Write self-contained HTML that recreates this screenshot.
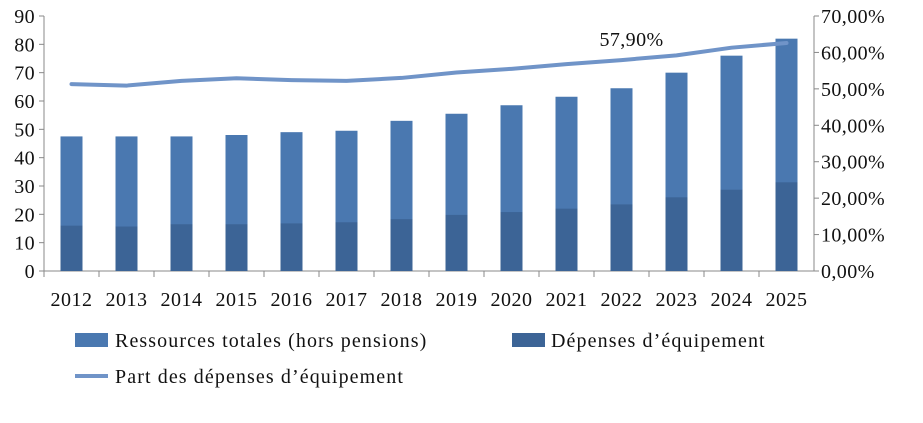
<!DOCTYPE html>
<html><head><meta charset="utf-8"><style>
body{margin:0;background:#fff;}
svg{display:block;font-family:"Liberation Serif",serif;}
</style></head><body>
<svg id="chart" width="923" height="423">
<g id="axes"></g><g id="bars"></g><g id="line"></g>
<g font-size="20" letter-spacing="1.1">
<rect x="75" y="333" width="33" height="14" fill="#4a78b0"/>
<text x="115" y="347" fill="#111">Ressources totales (hors pensions)</text>
<rect x="512" y="333" width="33" height="14" fill="#3c6496"/>
<text x="551" y="347" fill="#111">Dépenses d’équipement</text>
<line x1="75" y1="376" x2="108" y2="376" stroke="#7094c8" stroke-width="4"/>
<text x="115" y="383" fill="#111">Part des dépenses d’équipement</text>
</g>
</svg>
<script>
const categories=["2012","2013","2014","2015","2016","2017","2018","2019","2020","2021","2022","2023","2024","2025"];
const ressources=[47.5,47.5,47.5,48,49,49.5,53,55.5,58.5,61.5,64.5,70,76,82];
const depenses=[16,15.7,16.5,16.5,16.8,17.2,18.3,19.8,20.8,22,23.5,26,28.7,31.3];
const part=[51.3,50.9,52.2,52.9,52.4,52.2,53.0,54.5,55.5,56.8,57.9,59.2,61.3,62.6];
const leftTicks=[0,10,20,30,40,50,60,70,80,90];
const rightTicks=["0,00%","10,00%","20,00%","30,00%","40,00%","50,00%","60,00%","70,00%"];
const NS="http://www.w3.org/2000/svg";
const x0=44,step=55,yb=271,yt=16;
const yL=v=>yb-(v/90)*(yb-yt);
const yR=v=>yb-(v/70)*(yb-yt);
const xc=i=>x0+step*(i+0.5);
function mk(p,t,a){const e=document.createElementNS(NS,t);for(const k in a)e.setAttribute(k,a[k]);p.appendChild(e);return e;}
const ax=document.getElementById('axes'),bg=document.getElementById('bars'),lg=document.getElementById('line');
const xEnd=x0+step*categories.length;
let e=mk(ax,'line',{x1:x0,y1:yt,x2:x0,y2:yb,stroke:'#888'});

e=mk(ax,'line',{x1:xEnd,y1:yt,x2:xEnd,y2:yb,stroke:'#888'});

e=mk(ax,'line',{x1:x0,y1:yb,x2:xEnd,y2:yb,stroke:'#888'});

leftTicks.forEach(v=>{mk(ax,'line',{x1:x0-5,y1:yL(v),x2:x0,y2:yL(v),stroke:'#888'});
 const t=mk(ax,'text',{x:x0-9,y:yL(v)+7,'text-anchor':'end','font-size':20,'letter-spacing':0.4,fill:'#111'});t.textContent=v;
 });
rightTicks.forEach((s,i)=>{const v=i*10;mk(ax,'line',{x1:xEnd,y1:yR(v),x2:xEnd+5,y2:yR(v),stroke:'#888'});
 const t=mk(ax,'text',{x:xEnd+7,y:yR(v)+7,'font-size':20,'letter-spacing':0.4,fill:'#111'});t.textContent=s;
 });
categories.forEach((c,i)=>{mk(ax,'line',{x1:x0+step*i,y1:yb,x2:x0+step*i,y2:yb+6,stroke:'#888'});
 const t=mk(ax,'text',{x:xc(i),y:yb+35,'text-anchor':'middle','font-size':20,'letter-spacing':0.5,fill:'#111'});t.textContent=c;
 
 const r=mk(bg,'rect',{x:xc(i)-11,y:yL(ressources[i]),width:22,height:yb-yL(ressources[i]),fill:'#4a78b0'});
 
 const d=mk(bg,'rect',{x:xc(i)-11,y:yL(depenses[i]),width:22,height:yb-yL(depenses[i]),fill:'#3c6496'});
 });
const pts=part.map((v,i)=>xc(i)+','+yR(v)).join(' ');
const pl=mk(lg,'polyline',{points:pts,fill:'none',stroke:'#7094c8','stroke-width':4,'stroke-linejoin':'round','stroke-linecap':'round'});

const k=10;const lb=mk(lg,'text',{x:xc(k)+10,y:yR(part[k])-14,'text-anchor':'middle','font-size':20,'letter-spacing':0.4,fill:'#111'});
lb.textContent=part[k].toFixed(2).replace('.',',')+'%';

</script>
</body></html>
